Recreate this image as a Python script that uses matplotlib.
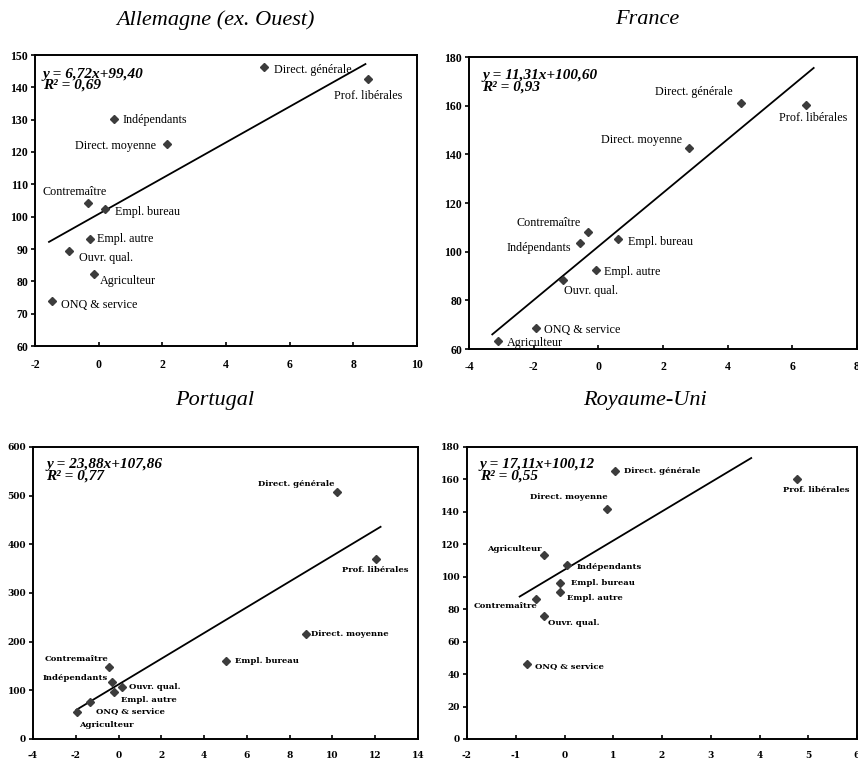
import matplotlib.pyplot as plt

# ---------------- data ----------------
categories = ["Direct. générale", "Prof. libérales", "Indépendants", "Direct. moyenne",
              "Contremaître", "Empl. bureau", "Empl. autre", "Ouvr. qual.",
              "Agriculteur", "ONQ & service"]

titles = ["Allemagne (ex. Ouest)", "France", "Portugal", "Royaume-Uni"]

equations = ["y = 6,72x+99,40\nR² = 0,69",
             "y = 11,31x+100,60\nR² = 0,93",
             "y = 23,88x+107,86\nR² = 0,77",
             "y = 17,11x+100,12\nR² = 0,55"]

de_x = [5.2, 8.46, 0.48, 2.16, -0.33, 0.21, -0.27, -0.92, -0.16, -1.48]
de_y = [146.2, 142.5, 130.2, 122.4, 104.1, 102.3, 93.0, 89.3, 82.2, 73.8]
de_line_x = [-1.56, 8.38]
de_line_y = [92.2, 147.2]

fr_x = [4.41, 6.43, -0.57, 2.79, -0.31, 0.61, -0.08, -1.09, -3.11, -1.93]
fr_y = [161.1, 160.4, 103.6, 142.6, 108.0, 105.3, 92.6, 88.2, 63.2, 68.5]
fr_line_x = [-3.28, 6.66]
fr_line_y = [66.0, 175.5]

pt_x = [10.19, 12.02, -0.31, 8.77, -0.44, 5.03, -0.2, 0.17, -1.94, -1.34]
pt_y = [507.7, 369.5, 118.0, 215.6, 148.0, 161.0, 97.3, 107.5, 55.5, 77.0]
pt_line_x = [-1.97, 12.25]
pt_line_y = [60.0, 436.0]

uk_x = [1.04, 4.77, 0.05, 0.87, -0.59, -0.1, -0.1, -0.42, -0.42, -0.76]
uk_y = [165.4, 160.5, 107.2, 141.7, 86.4, 96.0, 90.9, 75.7, 113.3, 46.5]
uk_line_x = [-0.92, 3.83]
uk_line_y = [87.8, 173.2]

xlims = [(-2, 10), (-4, 8), (-4, 14), (-2, 6)]
xticks = [range(-2, 11, 2), range(-4, 9, 2), range(-4, 15, 2), range(-2, 7, 1)]
ylims = [(60, 150), (60, 180), (0, 600), (0, 180)]
yticks = [range(60, 151, 10), range(60, 181, 20), range(0, 601, 100), range(0, 181, 20)]

# ---------------- layout (pixels) ----------------
W, H = 858, 763
# left, right, top, bottom in pixels
boxes = [(35, 417, 55, 346), (469, 857, 57, 349), (33, 418, 447, 739), (467, 857, 447, 739)]
title_pos = [(215, 20), (647, 19), (215, 400), (645, 400)]
eq_pos = [(0.021, 0.957), (0.034, 0.96), (0.034, 0.962), (0.033, 0.962)]

# label offsets in pixels (dx, dy, ha)
offs = [
    [(10, -3, "left"), (0, -17, "center"), (9, -1, "left"), (-11, -2, "right"),
     (-14, 11, "center"), (10, -3, "left"), (7, 0, "left"), (10, -7, "left"),
     (6, -7, "left"), (9, -4, "left")],
    [(-8, 11, "right"), (7, -13, "center"), (-9, -5, "right"), (-7, 8, "right"),
     (-8, 9, "right"), (10, -3, "left"), (8, -2, "left"), (1, -11, "left"),
     (9, -2, "left"), (8, -2, "left")],
    [(-2, 8, "right"), (0, -11, "center"), (-4, 4, "right"), (5, 0, "left"),
     (-1, 8, "right"), (9, 0, "left"), (7, -8, "left"), (7, 0, "left"),
     (2, -13, "left"), (6, -10, "left")],
    [(9, 0, "left"), (19, -11, "center"), (10, -2, "left"), (1, 12, "right"),
     (2, -7, "right"), (11, 0, "left"), (7, -6, "left"), (4, -7, "left"),
     (-2, 6, "right"), (8, -2, "left")],
]

xs = [de_x, fr_x, pt_x, uk_x]
ys = [de_y, fr_y, pt_y, uk_y]
lxs = [de_line_x, fr_line_x, pt_line_x, uk_line_x]
lys = [de_line_y, fr_line_y, pt_line_y, uk_line_y]

fig = plt.figure(figsize=(W / 100, H / 100), dpi=100)

for i in range(4):
    l, r, t, b = boxes[i]
    ax = fig.add_axes([l / W, (H - b) / H, (r - l) / W, (b - t) / H])
    if i < 2:
        lab_font = dict(family="Liberation Serif", size=8.7)
        tick_font = dict(family="Liberation Serif", size=8.5, weight="bold")
    else:
        lab_font = dict(family="DejaVu Serif", size=6, weight="bold")
        tick_font = dict(family="DejaVu Serif", size=6.5, weight="bold")

    ax.plot(lxs[i], lys[i], color="black", lw=1.3, zorder=3)
    ax.plot(xs[i], ys[i], "D", color="#3c3c3c", markersize=4.5, zorder=4, clip_on=False)
    for j, name in enumerate(categories):
        dx, dy, ha = offs[i][j]
        ax.annotate(name, (xs[i][j], ys[i][j]), xytext=(dx, dy), textcoords="offset pixels",
                    ha=ha, va="center", zorder=2, **lab_font)

    ax.text(eq_pos[i][0], eq_pos[i][1], equations[i], transform=ax.transAxes,
            ha="left", va="top", family="Liberation Serif", style="italic",
            weight="bold", size=11, linespacing=0.85)

    ax.set_xlim(*xlims[i])
    ax.set_ylim(*ylims[i])
    ax.set_xticks(list(xticks[i]))
    ax.set_yticks(list(yticks[i]))
    ax.set_xticklabels([str(v) for v in xticks[i]], **tick_font)
    ax.set_yticklabels([str(v) for v in yticks[i]], **tick_font)
    ax.tick_params(axis="x", direction="in", length=3, width=1.2, pad=9)
    ax.tick_params(axis="y", direction="out", length=3, width=1.2, pad=2)
    for s in ax.spines.values():
        s.set_linewidth(1.4)

    fig.text(title_pos[i][0] / W, 1 - title_pos[i][1] / H, titles[i], ha="center", va="center",
             family="Liberation Serif", style="italic", size=16)

fig.savefig("out.png", dpi=100)
